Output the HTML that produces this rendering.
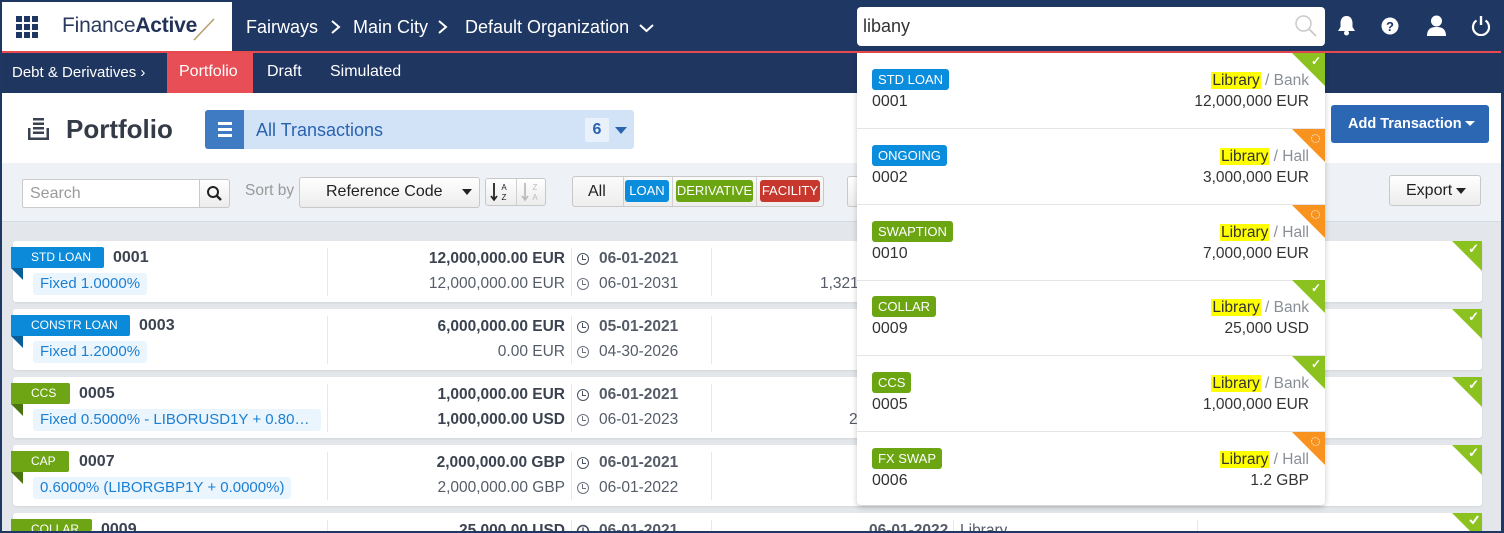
<!DOCTYPE html>
<html><head><meta charset="utf-8">
<style>
*{margin:0;padding:0;box-sizing:border-box}
html,body{width:1504px;height:533px;overflow:hidden}
body{position:relative;background:#1f3763;font-family:"Liberation Sans",Arial,sans-serif;color:#333}
.a{position:absolute;white-space:nowrap}
.clip{position:absolute;left:2px;top:222px;width:1500px;height:309px;background:#e3e7eb;overflow:hidden}
.row{position:absolute;left:-2px;width:1504px;height:61px}
.cardbg{position:absolute;left:13px;top:0;width:1469px;height:61px;background:#fff;border-radius:3px;box-shadow:0 1px 2px rgba(0,0,0,.08)}
.tag{position:absolute;left:11px;top:6px;height:21px;line-height:21px;font-size:12px;color:#fff;padding:0 9px 0 20px;border-radius:0 2px 2px 0}
.tb{background:#0a8ad9}.tg{background:#6ea514}
.fold{position:absolute;left:11px;top:27px;width:0;height:0;border-top:12px solid #0a5e98;border-left:12px solid transparent}
.fold.g{border-top-color:#4a7410}
.ref{position:absolute;top:7px;line-height:20px;font-size:16px;font-weight:bold;color:#3c4350}
.pill{position:absolute;left:33px;top:32px;height:22px;line-height:22px;font-size:15px;color:#1b7fd2;background:#ebf5fd;border-radius:3px;padding:0 7px;white-space:nowrap}
.amt{position:absolute;right:939px;line-height:20px;font-size:15.5px;color:#555c68;white-space:nowrap}
.b{font-weight:bold;color:#3c4350}
.l1{top:8px}.l2{top:33px}
.clk{position:absolute;left:577px;width:12px;height:12px;border:1.6px solid #4a5260;border-radius:50%}
.clk:after{content:"";position:absolute;left:4px;top:1px;width:3px;height:4px;border-left:1.4px solid #4a5260;border-bottom:1.4px solid #4a5260}
.clk.r{border-color:#6a717c}.clk.r:after{border-color:#6a717c}
.c1{top:12px}.c2{top:37px}
.date{position:absolute;left:599px;line-height:20px;font-size:15.5px;color:#555c68;white-space:nowrap}
.sep{position:absolute;top:7px;width:1px;height:48px;background:#e6e8eb}
.corner{position:absolute;right:22px;top:0;width:0;height:0;border-top:30px solid #8cc21f;border-left:30px solid transparent}
.chk{position:absolute;right:25px;top:1px;color:#fff;font-size:13px;font-weight:bold;line-height:14px}
.dd{position:absolute;left:857px;top:53px;width:468px;height:452px;background:#fff;border-radius:0 0 4px 4px;box-shadow:0 2px 6px rgba(0,0,0,.22);z-index:10;overflow:hidden}
.it{position:absolute;left:0;width:468px;height:76px;border-bottom:1.5px solid #e3e5e8}
.dtag{position:absolute;left:15px;top:16px;height:21px;line-height:21px;font-size:13px;color:#fff;padding:0 6px;border-radius:3px}
.dref{position:absolute;left:15px;top:39px;line-height:20px;font-size:16px;color:#333}
.dlib{position:absolute;right:16px;top:18px;line-height:20px;font-size:15.5px;color:#8a8f97;white-space:nowrap}
.hl{background:#ffff00;color:#333;padding:0 1px}
.damt{position:absolute;right:16px;top:39px;line-height:20px;font-size:15.5px;color:#333;white-space:nowrap}
.dc{position:absolute;right:0;top:0;width:0;height:0;border-top:33px solid #8cc21f;border-left:33px solid transparent}
.dc.o{border-top-color:#f7931e}
.dchk{position:absolute;right:4px;top:2px;color:#fff;font-size:12px;font-weight:bold;line-height:13px}
.dot{position:absolute;right:5px;top:5px;width:9px;height:9px;border:1.5px dotted #fff;border-radius:50%}
.btn{position:absolute;border:1px solid #c8c8c8;border-radius:3px;background:linear-gradient(#fff,#ececec)}
.cut{overflow:hidden}
</style></head><body>

<!-- top header -->
<div class="a" style="left:2px;top:2px;width:1500px;height:49px;background:#1f3763"></div>
<div class="a" style="left:2px;top:2px;width:230px;height:49px;background:#fff"></div>
<div class="a" style="left:0;top:51px;width:1504px;height:2px;background:#e84a50"></div>
<svg class="a" style="left:16px;top:16px" width="22" height="22">
<g fill="#1f3763"><rect x="0" y="0" width="6" height="6"/><rect x="8" y="0" width="6" height="6"/><rect x="16" y="0" width="6" height="6"/><rect x="0" y="8" width="6" height="6"/><rect x="8" y="8" width="6" height="6"/><rect x="16" y="8" width="6" height="6"/><rect x="0" y="16" width="6" height="6"/><rect x="8" y="16" width="6" height="6"/><rect x="16" y="16" width="6" height="6"/></g></svg>
<div class="a" style="left:62px;top:14px;font-size:21px;line-height:24px;color:#2a3a5e;letter-spacing:-0.2px">Finance<span style="font-weight:bold;color:#233258">Active</span></div>
<svg class="a" style="left:192px;top:16px" width="24" height="26"><line x1="2" y1="24" x2="22" y2="3" stroke="#b9a071" stroke-width="1.6"/></svg>

<div class="a" style="left:246px;top:16px;font-size:18px;line-height:22px;color:#fff">Fairways</div>
<svg class="a" style="left:330px;top:20px" width="12" height="14"><polyline points="2,1 9,7 2,13" fill="none" stroke="#fff" stroke-width="2"/></svg>
<div class="a" style="left:353px;top:16px;font-size:18px;line-height:22px;color:#fff">Main City</div>
<svg class="a" style="left:437px;top:20px" width="12" height="14"><polyline points="2,1 9,7 2,13" fill="none" stroke="#fff" stroke-width="2"/></svg>
<div class="a" style="left:465px;top:16px;font-size:18px;line-height:22px;color:#fff">Default Organization</div>
<svg class="a" style="left:639px;top:23px" width="15" height="10"><polyline points="1,2 7.5,8 14,2" fill="none" stroke="#fff" stroke-width="2"/></svg>

<div class="a" style="left:857px;top:7px;width:468px;height:39px;background:#fff;border-radius:4px"></div>
<div class="a" style="left:863px;top:15px;font-size:18px;line-height:22px;color:#333">libany</div>
<svg class="a" style="left:1294px;top:14px" width="24" height="24"><circle cx="9.5" cy="9.5" r="7.5" fill="none" stroke="#c9c9c9" stroke-width="1.5"/><line x1="15" y1="15" x2="22" y2="22" stroke="#c9c9c9" stroke-width="1.8"/></svg>

<svg class="a" style="left:1337px;top:15px" width="19" height="21"><path d="M9.5 1 C5 1 3.5 5 3.5 8 L3.5 12 L1 16 L18 16 L15.5 12 L15.5 8 C15.5 5 14 1 9.5 1Z" fill="#fff"/><circle cx="9.5" cy="18" r="2.5" fill="#fff"/></svg>
<svg class="a" style="left:1381px;top:17px" width="18" height="18"><circle cx="9" cy="9" r="8.5" fill="#fff"/><text x="9" y="14" text-anchor="middle" font-family="Liberation Sans" font-weight="bold" font-size="13" fill="#1f3763">?</text></svg>
<svg class="a" style="left:1426px;top:15px" width="21" height="21"><circle cx="10.5" cy="6" r="5.5" fill="#fff"/><path d="M1 21 C1 14 5 12 10.5 12 C16 12 20 14 20 21Z" fill="#fff"/></svg>
<svg class="a" style="left:1471px;top:15px" width="20" height="21"><path d="M5.5 5.5 A8 8 0 1 0 14.5 5.5" fill="none" stroke="#fff" stroke-width="2.2"/><line x1="10" y1="1" x2="10" y2="10" stroke="#fff" stroke-width="2.4"/></svg>

<!-- second nav -->
<div class="a" style="left:2px;top:53px;width:1500px;height:40px;background:#1f3661"></div>
<div class="a" style="left:12px;top:63px;font-size:15px;line-height:20px;color:#fff">Debt &amp; Derivatives ›</div>
<div class="a" style="left:167px;top:53px;width:86px;height:40px;background:#e84e55"></div>
<div class="a" style="left:179px;top:62px;font-size:16px;line-height:20px;color:#fff">Portfolio</div>
<div class="a" style="left:267px;top:62px;font-size:16px;line-height:20px;color:#fff">Draft</div>
<div class="a" style="left:330px;top:62px;font-size:16px;line-height:20px;color:#fff">Simulated</div>

<!-- header white -->
<div class="a" style="left:2px;top:93px;width:1500px;height:70px;background:#fff"></div>
<svg class="a" style="left:28px;top:118px" width="21" height="22"><g fill="#3a4150"><rect x="5" y="0" width="11" height="2.5"/><rect x="5" y="4.5" width="11" height="2.5"/><rect x="5" y="9" width="11" height="2.5"/><rect x="5" y="13.5" width="11" height="2.5"/><rect x="0" y="10" width="2.5" height="12"/><rect x="18.5" y="10" width="2.5" height="12"/><rect x="0" y="19.5" width="21" height="2.5"/></g></svg>
<div class="a" style="left:66px;top:114px;font-size:26px;line-height:30px;font-weight:bold;color:#343b47">Portfolio</div>

<div class="a" style="left:205px;top:110px;width:429px;height:39px;background:#d3e3f7;border-radius:3px"></div>
<div class="a" style="left:205px;top:110px;width:39px;height:39px;background:#3f7bc3;border-radius:3px 0 0 3px"></div>
<div class="a" style="left:218px;top:122px;width:14px;height:2.5px;background:#fff"></div>
<div class="a" style="left:218px;top:128px;width:14px;height:2.5px;background:#fff"></div>
<div class="a" style="left:218px;top:134px;width:14px;height:2.5px;background:#fff"></div>
<div class="a" style="left:256px;top:119px;font-size:18px;line-height:22px;color:#2a63b0">All Transactions</div>
<div class="a" style="left:585px;top:118px;width:24px;height:24px;background:#e9f1fb;border-radius:2px;text-align:center;font-size:16px;line-height:24px;font-weight:bold;color:#2a63b0">6</div>
<div class="a" style="left:615px;top:127px;width:0;height:0;border-left:6px solid transparent;border-right:6px solid transparent;border-top:7px solid #2a63b0"></div>

<div class="a" style="left:1331px;top:105px;width:158px;height:38px;background:#2b67b3;border-radius:3px"></div>
<div class="a" style="left:1348px;top:114px;font-size:14.5px;line-height:20px;font-weight:bold;color:#fff">Add Transaction</div>
<div class="a" style="left:1465px;top:121px;width:0;height:0;border-left:5px solid transparent;border-right:5px solid transparent;border-top:5px solid #fff"></div>

<!-- toolbar -->
<div class="a" style="left:2px;top:163px;width:1500px;height:59px;background:#eef1f5;border-bottom:1.5px solid #d4dbe3"></div>
<div class="a" style="left:22px;top:179px;width:178px;height:29px;background:#fff;border:1px solid #cbcbcb;border-radius:2px 0 0 2px"></div>
<div class="a" style="left:30px;top:184px;font-size:16px;line-height:20px;color:#9a9a9a">Search</div>
<div class="btn" style="left:199px;top:179px;width:31px;height:29px;border-radius:0 3px 3px 0"></div>
<svg class="a" style="left:206px;top:185px" width="17" height="17"><circle cx="7" cy="7" r="5" fill="none" stroke="#222" stroke-width="2"/><line x1="10.5" y1="10.5" x2="15" y2="15" stroke="#222" stroke-width="2.4"/></svg>
<div class="a" style="left:245px;top:181px;font-size:15.5px;line-height:20px;color:#999">Sort by</div>
<div class="btn" style="left:299px;top:177px;width:181px;height:31px"></div>
<div class="a" style="left:326px;top:182px;font-size:16px;line-height:20px;color:#222">Reference Code</div>
<div class="a" style="left:462px;top:189px;width:0;height:0;border-left:5px solid transparent;border-right:5px solid transparent;border-top:6px solid #222"></div>
<div class="btn" style="left:485px;top:178px;width:61px;height:28px"></div>
<div class="a" style="left:516px;top:179px;width:1px;height:26px;background:#d0d0d0"></div>
<svg class="a" style="left:489px;top:180px" width="24" height="24"><line x1="5" y1="3" x2="5" y2="19" stroke="#222" stroke-width="1.8"/><polyline points="2,16 5,20 8,16" fill="none" stroke="#222" stroke-width="1.6"/><text x="15" y="10" text-anchor="middle" font-family="Liberation Sans" font-size="8" fill="#222">A</text><text x="15" y="20" text-anchor="middle" font-family="Liberation Sans" font-size="8" fill="#222">Z</text></svg>
<svg class="a" style="left:520px;top:180px" width="24" height="24"><line x1="5" y1="3" x2="5" y2="19" stroke="#bbb" stroke-width="1.8"/><polyline points="2,16 5,20 8,16" fill="none" stroke="#bbb" stroke-width="1.6"/><text x="15" y="10" text-anchor="middle" font-family="Liberation Sans" font-size="8" fill="#bbb">Z</text><text x="15" y="20" text-anchor="middle" font-family="Liberation Sans" font-size="8" fill="#bbb">A</text></svg>

<div class="btn" style="left:572px;top:176px;width:252px;height:31px;background:linear-gradient(#fafafa,#eeeeee)"></div>
<div class="a" style="left:588px;top:182px;font-size:16px;line-height:20px;color:#222">All</div>
<div class="a" style="left:623px;top:177px;width:1px;height:29px;background:#d0d0d0"></div>
<div class="a" style="left:625px;top:180px;width:44px;height:22px;background:#0a8ddd;border-radius:3px;color:#fff;font-size:13px;line-height:22px;text-align:center">LOAN</div>
<div class="a" style="left:672px;top:177px;width:1px;height:29px;background:#d0d0d0"></div>
<div class="a" style="left:676px;top:180px;width:77px;height:22px;background:#6ba512;border-radius:3px;color:#fff;font-size:13px;line-height:22px;text-align:center">DERIVATIVE</div>
<div class="a" style="left:756px;top:177px;width:1px;height:29px;background:#d0d0d0"></div>
<div class="a" style="left:760px;top:180px;width:60px;height:22px;background:#c8372d;border-radius:3px;color:#fff;font-size:13px;line-height:22px;text-align:center">FACILITY</div>
<div class="btn" style="left:847px;top:176px;width:40px;height:31px"></div>

<div class="btn" style="left:1389px;top:175px;width:92px;height:31px"></div>
<div class="a" style="left:1406px;top:181px;font-size:16px;line-height:20px;color:#222">Export</div>
<div class="a" style="left:1456px;top:188px;width:0;height:0;border-left:5px solid transparent;border-right:5px solid transparent;border-top:6px solid #222"></div>

<!-- list area (clipped) -->
<div class="clip">

<div class="row" style="top:19px">
<div class="cardbg"></div>
<div class="sep" style="left:327px"></div><div class="sep" style="left:571px"></div><div class="sep" style="left:711px"></div>
<div class="tag tb" style="width:93px">STD LOAN</div><div class="fold"></div>
<div class="ref" style="left:113px">0001</div>
<div class="pill">Fixed 1.0000%</div>
<div class="amt b l1">12,000,000.00 EUR</div><div class="amt l2">12,000,000.00 EUR</div>
<div class="clk c1"></div><div class="clk r c2"></div>
<div class="date b l1">06-01-2021</div><div class="date l2">06-01-2031</div>
<div class="amt l2" style="right:auto;left:820px">1,321,000.00</div>
<div class="corner"></div><div class="chk">✓</div>
</div>

<div class="row" style="top:87px">
<div class="cardbg"></div>
<div class="sep" style="left:327px"></div><div class="sep" style="left:571px"></div><div class="sep" style="left:711px"></div>
<div class="tag tb" style="width:119px">CONSTR LOAN</div><div class="fold"></div>
<div class="ref" style="left:139px">0003</div>
<div class="pill">Fixed 1.2000%</div>
<div class="amt b l1">6,000,000.00 EUR</div><div class="amt l2">0.00 EUR</div>
<div class="clk c1"></div><div class="clk r c2"></div>
<div class="date b l1">05-01-2021</div><div class="date l2">04-30-2026</div>
<div class="corner"></div><div class="chk">✓</div>
</div>

<div class="row" style="top:155px">
<div class="cardbg"></div>
<div class="sep" style="left:327px"></div><div class="sep" style="left:571px"></div><div class="sep" style="left:711px"></div>
<div class="tag tg" style="width:59px">CCS</div><div class="fold g"></div>
<div class="ref" style="left:79px">0005</div>
<div class="pill" style="width:288px;overflow:hidden">Fixed 0.5000% - LIBORUSD1Y + 0.80…</div>
<div class="amt b l1">1,000,000.00 EUR</div><div class="amt b l2">1,000,000.00 USD</div>
<div class="clk c1"></div><div class="clk r c2"></div>
<div class="date b l1">06-01-2021</div><div class="date l2">06-01-2023</div>
<div class="amt l2" style="right:auto;left:849px">2</div>
<div class="corner"></div><div class="chk">✓</div>
</div>

<div class="row" style="top:223px">
<div class="cardbg"></div>
<div class="sep" style="left:327px"></div><div class="sep" style="left:571px"></div><div class="sep" style="left:711px"></div>
<div class="tag tg" style="width:58px">CAP</div><div class="fold g"></div>
<div class="ref" style="left:79px">0007</div>
<div class="pill">0.6000% (LIBORGBP1Y + 0.0000%)</div>
<div class="amt b l1">2,000,000.00 GBP</div><div class="amt l2">2,000,000.00 GBP</div>
<div class="clk c1"></div><div class="clk r c2"></div>
<div class="date b l1">06-01-2021</div><div class="date l2">06-01-2022</div>
<div class="corner"></div><div class="chk">✓</div>
</div>

<!-- row 5: clipped to 18px so nothing extends past the frame -->
<div class="row cut" style="top:291px;height:18px">
<div class="cardbg" style="height:18px;border-radius:3px 3px 0 0"></div>
<div class="sep" style="left:327px;height:11px"></div><div class="sep" style="left:571px;height:11px"></div><div class="sep" style="left:711px;height:11px"></div><div class="sep" style="left:953px;height:11px"></div><div class="sep" style="left:1197px;height:11px"></div>
<div class="tag tg cut" style="width:81px;height:12px">COLLAR</div>
<div class="ref cut" style="left:101px;height:11px">0009</div>
<div class="amt b l1 cut" style="height:10px">25,000.00 USD</div>
<svg class="a" style="left:576px;top:11px" width="14" height="7"><circle cx="7" cy="7" r="5.4" fill="none" stroke="#4a5260" stroke-width="1.6"/><line x1="7" y1="3.5" x2="7" y2="7" stroke="#4a5260" stroke-width="1.4"/></svg>
<div class="date b l1 cut" style="height:10px">06-01-2021</div>
<div class="date b l1 cut" style="left:869px;height:10px">06-01-2022</div>
<div class="date l1 cut" style="left:960px;height:10px">Library</div>
<svg class="a" style="left:1452px;top:0" width="30" height="18"><polygon points="0,0 30,0 30,30" fill="#8cc21f"/><polyline points="18,7 21,10 26,3" fill="none" stroke="#fff" stroke-width="2"/></svg>
</div>

</div>

<!-- dropdown -->
<div class="dd">
 <div class="it" style="top:0">
  <div class="dtag" style="background:#0a8ddd">STD LOAN</div>
  <div class="dref">0001</div>
  <div class="dlib"><span class="hl">Library</span> / Bank</div>
  <div class="damt">12,000,000 EUR</div>
  <div class="dc"></div><div class="dchk">✓</div>
 </div>
 <div class="it" style="top:76px">
  <div class="dtag" style="background:#0a8ddd">ONGOING</div>
  <div class="dref">0002</div>
  <div class="dlib"><span class="hl">Library</span> / Hall</div>
  <div class="damt">3,000,000 EUR</div>
  <div class="dc o"></div><div class="dot"></div>
 </div>
 <div class="it" style="top:152px">
  <div class="dtag" style="background:#6ba512">SWAPTION</div>
  <div class="dref">0010</div>
  <div class="dlib"><span class="hl">Library</span> / Hall</div>
  <div class="damt">7,000,000 EUR</div>
  <div class="dc o"></div><div class="dot"></div>
 </div>
 <div class="it" style="top:227px">
  <div class="dtag" style="background:#6ba512">COLLAR</div>
  <div class="dref">0009</div>
  <div class="dlib"><span class="hl">Library</span> / Bank</div>
  <div class="damt">25,000 USD</div>
  <div class="dc"></div><div class="dchk">✓</div>
 </div>
 <div class="it" style="top:303px">
  <div class="dtag" style="background:#6ba512">CCS</div>
  <div class="dref">0005</div>
  <div class="dlib"><span class="hl">Library</span> / Bank</div>
  <div class="damt">1,000,000 EUR</div>
  <div class="dc"></div><div class="dchk">✓</div>
 </div>
 <div class="it" style="top:379px;height:73px;border-bottom:none">
  <div class="dtag" style="background:#6ba512">FX SWAP</div>
  <div class="dref">0006</div>
  <div class="dlib"><span class="hl">Library</span> / Hall</div>
  <div class="damt">1.2 GBP</div>
  <div class="dc o"></div><div class="dot"></div>
 </div>
</div>

<!-- frame -->
<div class="a" style="left:0;top:0;width:1504px;height:533px;border:2px solid #1f3763;border-right-width:3px;z-index:20"></div>
</body></html>
